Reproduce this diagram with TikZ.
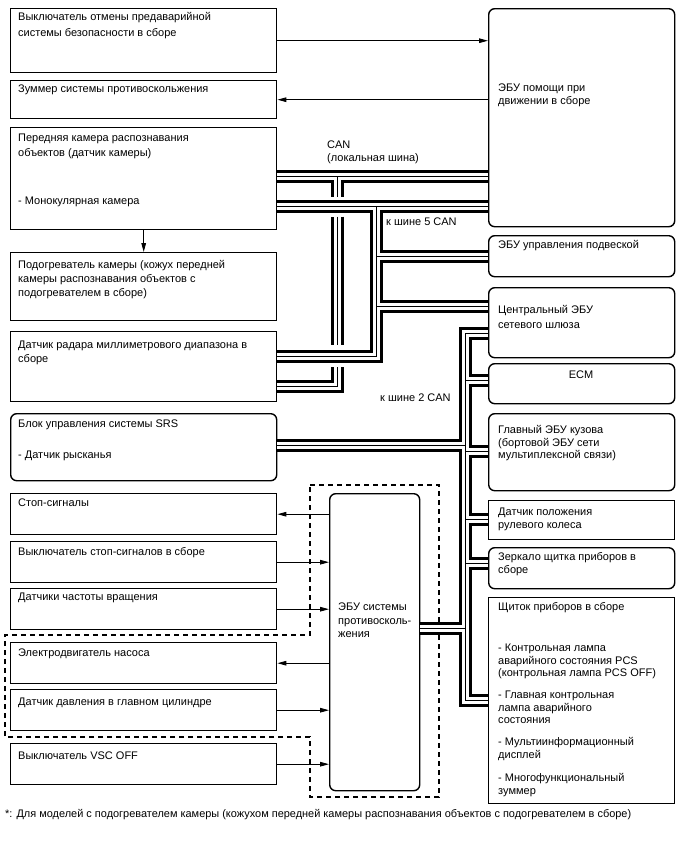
\documentclass[tikz,border=0pt]{standalone}
\usepackage{fontspec}
\setmainfont{Liberation Sans}
\usetikzlibrary{arrows.meta,calc}
\newcommand\ts{\rule{0pt}{8.5pt}}
\newcommand\allbus[1]{%
 \draw[#1] (b3.east |- j1) -- (r1.west |- j1);
 \draw[#1] (b3.east |- j5) -- (r1.west |- j5);
 \draw[#1] (j1) -- (j1g);
 \draw[#1] (j1h) -- (j1i);
 \draw[#1] (j1k) -- (j1e) -- (b5.east |- j1e);
 \draw[#1] (j5) -- (j5e) -- (b5.east |- j5e);
 \draw[#1] (j5 |- r2.west) -- (r2.west);
 \draw[#1] (j5 |- 0,306) -- (r3.west |- 0,306);
 \draw[#1] (r3.west |- j2t) -- (j2t) -- (j2b) -- (r8.west |- j2b);
 \draw[#1] (b6.east |- 0,445) -- (j2t |- 0,445);
 \draw[#1] (j2t |- 0,380) -- (r4.west |- 0,380);
 \draw[#1] (j2t |- 0,451) -- (r5.west |- 0,451);
 \draw[#1] (j2t |- 0,519) -- (r6.west |- 0,519);
 \draw[#1] (j2t |- 0,563) -- (r7.west |- 0,563);
 \draw[#1] (abs.east |- 0,628) -- (j2t |- 0,628);
}
\begin{document}
\begin{tikzpicture}[x=1pt,y=-1pt,
 box/.style={draw,line width=1.4pt,fill=white,inner sep=0pt,anchor=north west},
 rbox/.style={box,rounded corners=6pt},
 lbl/.style={anchor=north west,inner sep=0pt,align=left,font=\fontsize{11}{15}\selectfont},
 sig/.style={line width=0.9pt,-{Triangle[length=9pt,width=4.6pt]}},
 busA/.style={line width=13pt,black},
 busB/.style={line width=7pt,white},
 busC/.style={line width=0.9pt,black},
 grp/.style={line width=1.3pt,dash pattern=on 5pt off 4pt}]
\useasboundingbox[fill=white] (0,0) rectangle (688,852);

% left boxes
\node[box,minimum width=266pt,minimum height=64pt] (b1) at (10,8) {};
\node[box,minimum width=266pt,minimum height=38pt] (b2) at (10,80) {};
\node[box,minimum width=266pt,minimum height=102pt] (b3) at (10,127) {};
\node[box,minimum width=266pt,minimum height=68pt] (b4) at (10,252) {};
\node[box,minimum width=266pt,minimum height=70pt] (b5) at (10,331) {};
\node[rbox,minimum width=266pt,minimum height=67pt] (b6) at (10,413) {};
\node[box,minimum width=266pt,minimum height=41pt] (b7) at (10,493) {};
\node[box,minimum width=266pt,minimum height=41pt] (b8) at (10,541) {};
\node[box,minimum width=266pt,minimum height=41pt] (b9) at (10,588) {};
\node[box,minimum width=266pt,minimum height=41pt] (b10) at (10,642) {};
\node[box,minimum width=266pt,minimum height=41pt] (b11) at (10,689) {};
\node[box,minimum width=266pt,minimum height=41pt] (b12) at (10,743) {};
% right boxes
\node[rbox,minimum width=186pt,minimum height=218pt] (r1) at (488,8) {};
\node[rbox,minimum width=186pt,minimum height=41pt] (r2) at (488,235) {};
\node[rbox,minimum width=186pt,minimum height=70pt] (r3) at (488,287) {};
\node[rbox,minimum width=186pt,minimum height=40pt] (r4) at (488,363) {};
\node[rbox,minimum width=186pt,minimum height=77pt] (r5) at (488,413) {};
\node[box,minimum width=186pt,minimum height=39pt] (r6) at (488,500) {};
\node[rbox,minimum width=186pt,minimum height=41pt] (r7) at (488,547) {};
\node[box,minimum width=186pt,minimum height=206pt] (r8) at (488,597) {};
\node[rbox,minimum width=90pt,minimum height=297pt] (abs) at (329,493) {};

% group outline
\draw[grp] (310,485) -- (439,485) -- (439,797) -- (310,797) -- (310,737) -- (5,737) -- (5,635) -- (310,635) -- cycle;

% bus junction coordinates
\coordinate (j1) at (337,176);
\coordinate (j1g) at (337,196.5);
\coordinate (j1h) at (337,216.5);
\coordinate (j1i) at (337,345);
\coordinate (j1k) at (337,367);
\coordinate (j1e) at (337,386);
\coordinate (j5) at (376,206);
\coordinate (j5e) at (376,356);
\coordinate (j2t) at (465,333);
\coordinate (j2b) at (465,700);

\allbus{busA}
\allbus{busB}
\allbus{busC}

% signal arrows
\draw[sig] (b1.east) -- (b1.east -| r1.west);
\draw[sig] (r1.west |- b2.east) -- (b2.east);
\draw[sig] (b3.south) -- (b4.north);
\draw[sig] (abs.west |- b7.east) -- (b7.east);
\draw[sig] (b8.east) -- (b8.east -| abs.west);
\draw[sig] (b9.east) -- (b9.east -| abs.west);
\draw[sig] (abs.west |- b10.east) -- (b10.east);
\draw[sig] (b11.east) -- (b11.east -| abs.west);
\draw[sig] (b12.east) -- (b12.east -| abs.west);

% labels
\node[lbl,font=\fontsize{11}{15.5}\selectfont] (t1) at (18,12) {\ts Выключатель отмены предаварийной\\системы безопасности в сборе};
\node[lbl] (t2) at (18,84) {\ts Зуммер системы противоскольжения};
\node[lbl] (t3) at (18,133) {\ts Передняя камера распознавания\\объектов (датчик камеры)};
\node[lbl] (t3b) at (18,196) {\ts - Монокулярная камера};
\node[lbl,font=\fontsize{11}{14}\selectfont] (t4) at (18,260) {\ts Подогреватель камеры (кожух передней\\камеры распознавания объектов с\\подогревателем в сборе)};
\node[lbl,font=\fontsize{11}{14}\selectfont] (t5) at (18,340) {\ts Датчик радара миллиметрового диапазона в\\сборе};
\node[lbl] (t6) at (18,419) {\ts Блок управления системы SRS};
\node[lbl] (t6b) at (18,450) {\ts - Датчик рысканья};
\node[lbl] (t7) at (18,498) {\ts Стоп-сигналы};
\node[lbl] (t8) at (18,547) {\ts Выключатель стоп-сигналов в сборе};
\node[lbl] (t9) at (18,592) {\ts Датчики частоты вращения};
\node[lbl] (t10) at (18,648) {\ts Электродвигатель насоса};
\node[lbl] (t11) at (18,697) {\ts Датчик давления в главном цилиндре};
\node[lbl] (t12) at (18,751) {\ts Выключатель VSC OFF};
\node[lbl,font=\fontsize{11}{13.5}\selectfont] (tabs) at (338,602) {\ts ЭБУ системы\\противосколь-\\жения};
\node[lbl,font=\fontsize{11}{13}\selectfont] (tr1) at (498,83) {\ts ЭБУ помощи при\\движении в сборе};
\node[lbl] (tr2) at (498,240) {\ts ЭБУ управления подвеской};
\node[lbl] (tr3) at (498,305) {\ts Центральный ЭБУ\\сетевого шлюза};
\node[lbl,anchor=north] (tr4) at (581,370) {\ts ECM};
\node[lbl,font=\fontsize{11}{12.5}\selectfont] (tr5) at (498,425) {\ts Главный ЭБУ кузова\\(бортовой ЭБУ сети\\мультиплексной связи)};
\node[lbl,font=\fontsize{11}{13}\selectfont] (tr6) at (498,507) {\ts Датчик положения\\рулевого колеса};
\node[lbl,font=\fontsize{11}{13}\selectfont] (tr7) at (498,552) {\ts Зеркало щитка приборов в\\сборе};
\node[lbl] (tr8) at (498,602) {\ts Щиток приборов в сборе};
\node[lbl,font=\fontsize{11}{12.5}\selectfont] (tr8a) at (498,643) {\ts - Контрольная лампа\\аварийного состояния PCS\\(контрольная лампа PCS OFF)};
\node[lbl,font=\fontsize{11}{12.5}\selectfont] (tr8b) at (498,690) {\ts - Главная контрольная\\лампа аварийного\\состояния};
\node[lbl,font=\fontsize{11}{12.5}\selectfont] (tr8c) at (498,737) {\ts - Мультиинформационный\\дисплей};
\node[lbl,font=\fontsize{11}{12.5}\selectfont] (tr8d) at (498,773) {\ts - Многофункциональный\\зуммер};
\node[lbl,font=\fontsize{11}{13}\selectfont] (can) at (327,140) {\ts CAN\\(локальная шина)};
\node[lbl] (k5) at (386,217) {\ts к шине 5 CAN};
\node[lbl] (k2) at (380,393) {\ts к шине 2 CAN};
\node[lbl,font=\fontsize{10.95}{12}\selectfont] (foot) at (5,809) {\ts *: Для моделей с подогревателем камеры (кожухом передней камеры распознавания объектов с подогревателем в сборе)};
\end{tikzpicture}
\end{document}
